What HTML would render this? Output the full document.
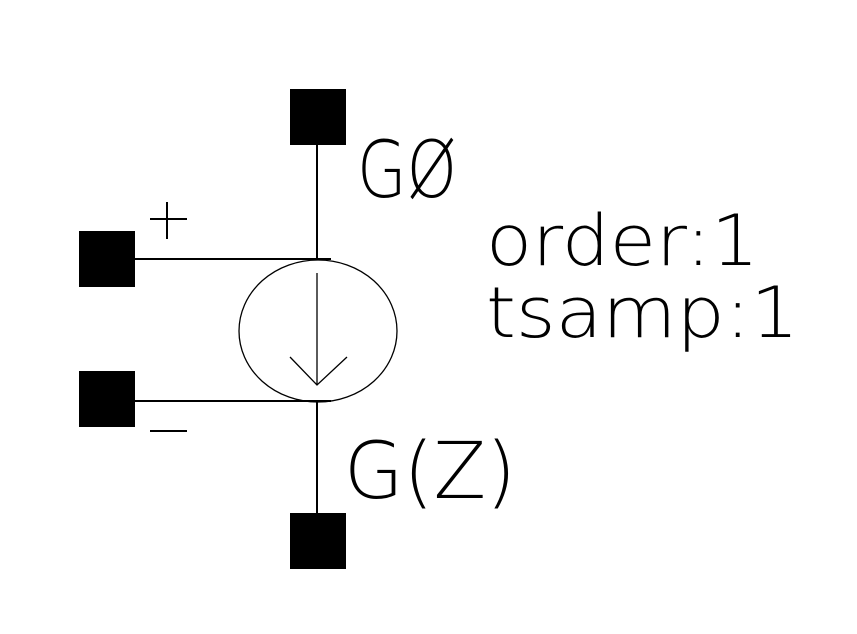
<!DOCTYPE html>
<html><head><style>html,body{margin:0;padding:0;background:#fff;}svg{display:block}</style></head>
<body>
<svg width="857" height="634" viewBox="0 0 857 634" xmlns="http://www.w3.org/2000/svg">
<rect width="857" height="634" fill="#fff"/>
<g fill="#000">
<rect x="290" y="89" width="56" height="56"/>
<rect x="79" y="231" width="56" height="56"/>
<rect x="79" y="371" width="56" height="56"/>
<rect x="290" y="513" width="56" height="56"/>
</g>
<g stroke="#000" stroke-width="2" fill="none">
<line x1="317" y1="145" x2="317" y2="260"/>
<line x1="135" y1="259" x2="331" y2="259"/>
<line x1="135" y1="401" x2="331" y2="401"/>
<line x1="317" y1="401" x2="317" y2="513"/>
<line x1="150" y1="219" x2="187" y2="219"/>
<line x1="167" y1="202" x2="167" y2="239"/>
<line x1="150" y1="431" x2="187" y2="431"/>
</g>
<g stroke="#000" stroke-width="1.3" fill="none">
<ellipse cx="318" cy="331" rx="79" ry="71"/>
<line x1="317" y1="273" x2="317" y2="385"/>
<polyline points="290,357 317,385 347,357"/>
</g>
<g font-family="DejaVu Sans ExtraLight, DejaVu Sans, Liberation Sans, sans-serif" font-weight="200" fill="#000">
<text x="357" y="197" font-size="78" textLength="100" lengthAdjust="spacingAndGlyphs">GØ</text>
<text x="344" y="498" font-size="78" textLength="172" lengthAdjust="spacingAndGlyphs">G(Z)</text>
<text x="486" y="265" font-size="70" textLength="273" lengthAdjust="spacingAndGlyphs">order:1</text>
<text x="486" y="337" font-size="70" textLength="313" lengthAdjust="spacingAndGlyphs">tsamp:1</text>
</g>
</svg>
</body></html>
